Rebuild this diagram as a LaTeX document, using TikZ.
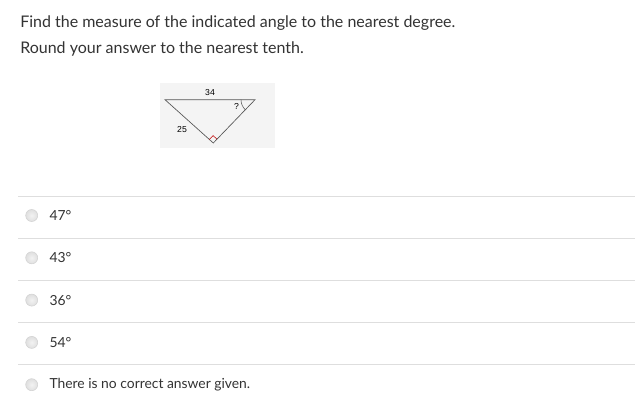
\documentclass[tikz,border=0pt]{standalone}
\usepackage{fontspec}
\setmainfont{Lato}
\newfontfamily\figfont{Liberation Sans}
\usetikzlibrary{positioning,calc}

\definecolor{txtgray}{HTML}{333333}
\definecolor{rulegray}{HTML}{DEDEDE}
\definecolor{figback}{HTML}{F4F4F4}
\definecolor{edgegray}{HTML}{555555}

\tikzset{
    question/.style={anchor=base west, inner sep=0pt, text=txtgray, font=\fontsize{12.0}{14}\selectfont},
    answer/.style={inner sep=0pt, text=txtgray, font=\fontsize{10.4}{12}\selectfont},
    radiobtn/.style={circle, minimum size=9pt, inner sep=0pt, draw=gray!35, inner color=gray!10, outer color=gray!25},
    figlabel/.style={inner sep=0pt, text=black, font=\figfont\fontsize{6.5}{7}\selectfont}
}

\begin{document}
\begin{tikzpicture}[x=0.75pt, y=-0.75pt]
    \useasboundingbox[fill=white](0,0) rectangle (638,417);

    % question
    \node[question] (q1) at (20,27.3) {Find the measure of the indicated angle to the nearest degree.};
    \node[question] (q2) at (20,54) {Round your answer to the nearest tenth.};

    % figure
    \fill[figback](160,83) rectangle (275,148);
    \coordinate (A) at (165,99.7);
    \coordinate (B) at (255,99.7);
    \coordinate (C) at (213.3,143);
    \draw[edgegray, line width=0.5pt](A)--(B)--(C)--cycle;
    \draw[red!75!black, line width=0.4pt]($(C)!4pt!(A)$)--($($(C)!4pt!(A)$)+($(C)!4pt!(B)$)-(C)$)--($(C)!4pt!(B)$);
    \draw[edgegray, line width=0.4pt]($(B)!10.5pt!(A)$) arc[start angle=180, end angle=226, radius=10.5pt];
    \node[figlabel] (lab34) at (210,93) {34};
    \node[figlabel] (labq) at (236.5,106) {?};
    \node[figlabel] (lab25) at (182,130) {25};

    % answers
    \foreach \txt [count=\i] in {47°,43°,36°,54°,There is no correct answer given.}{
        \draw[rulegray, line width=0.6pt](18,{196+42.2*(\i-1)})--(635,{196+42.2*(\i-1)});
        \node[radiobtn] (r\i) at (31.7,{215.5+42.3*(\i-1)}) {};
        \node[answer, right=8.5pt of r\i] (a\i) {\txt};
    }
\end{tikzpicture}
\end{document}
